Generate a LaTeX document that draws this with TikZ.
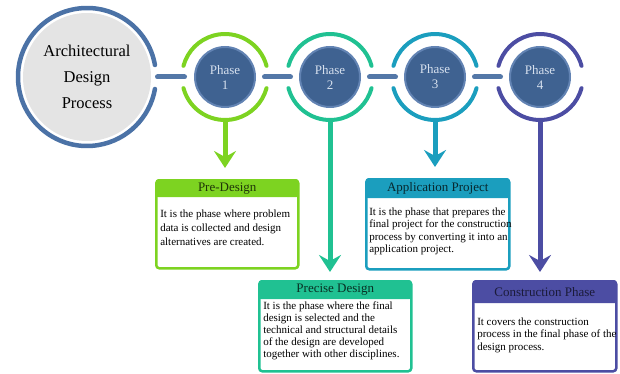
\documentclass[tikz,border=0pt]{standalone}
\usepackage{fontspec}
\setmainfont{Liberation Serif}
\usetikzlibrary{positioning, arrows.meta}
\definecolor{steelcustom}{RGB}{75,114,166}
\definecolor{barblue}{RGB}{84,120,168}
\definecolor{phaseblue}{RGB}{63,98,145}
\definecolor{rimblue}{RGB}{98,131,179}
\definecolor{phasetext}{RGB}{214,224,238}
\definecolor{graycustom}{RGB}{228,228,228}
\definecolor{limecustom}{RGB}{125,211,33}
\definecolor{mintcustom}{RGB}{32,193,146}
\definecolor{tealcustom}{RGB}{27,158,190}
\definecolor{indigocustom}{RGB}{76,77,163}

\begin{document}
\begin{tikzpicture}[x=1pt, y=1pt,
  ring/.style={line width=4pt, line cap=round},
  ph/.style={circle, fill=phaseblue, draw=rimblue, line width=2pt, minimum size=60pt, inner sep=0pt, align=center, text=phasetext, font=\fontsize{13}{15}\selectfont},
  hold/.style={circle, minimum size=86pt, inner sep=0pt},
  bar/.style={line width=5pt, barblue, line cap=round},
  stem/.style={line width=5pt, shorten >=11pt, -{Stealth[length=17pt, width=22pt, inset=6pt]}},
  card/.style={draw, line width=2.5pt, rounded corners=3pt, fill=white, inner sep=0pt, anchor=north west},
  head/.style={anchor=north, rounded corners=2pt, inner sep=0pt, font=\fontsize{13}{15}\selectfont},
  txt/.style={anchor=north west, align=left, inner sep=0pt, font=\fontsize{11}{12.5}\selectfont}]
 \useasboundingbox (0,0) rectangle (620,-374);

 \node[circle, fill=graycustom, minimum size=128pt, inner sep=0pt, align=center, font=\fontsize{16.5}{26}\selectfont] (adp) at (87,-77) {Architectural\\Design\\Process};
 \draw[ring, line width=4.5pt, steelcustom] ([shift={(10:69)}]adp.center) arc[start angle=10, end angle=350, radius=69];

 \node[ph] (p1) at (225,-77) {Phase\\1};
 \node[ph] (p2) at (330,-77) {Phase\\2};
 \node[ph] (p3) at (435,-77) {Phase\\3};
 \node[ph] (p4) at (540,-77) {Phase\\4};
 \node[hold] (r1) at (p1) {};
 \node[hold] (r2) at (p2) {};
 \node[hold] (r3) at (p3) {};
 \node[hold] (r4) at (p4) {};

 \draw[ring, limecustom] ([shift={(15:43)}]r1.center) arc[start angle=15, end angle=165, radius=43];
 \draw[ring, limecustom] ([shift={(195:43)}]r1.center) arc[start angle=195, end angle=345, radius=43];
 \draw[ring, mintcustom] ([shift={(15:43)}]r2.center) arc[start angle=15, end angle=165, radius=43];
 \draw[ring, mintcustom] ([shift={(195:43)}]r2.center) arc[start angle=195, end angle=345, radius=43];
 \draw[ring, tealcustom] ([shift={(15:43)}]r3.center) arc[start angle=15, end angle=165, radius=43];
 \draw[ring, tealcustom] ([shift={(195:43)}]r3.center) arc[start angle=195, end angle=345, radius=43];
 \draw[ring, indigocustom] ([shift={(15:43)}]r4.center) arc[start angle=15, end angle=165, radius=43];
 \draw[ring, indigocustom] ([shift={(195:43)}]r4.center) arc[start angle=195, end angle=345, radius=43];

 \draw[bar, shorten <=70.5pt, shorten >=40.5pt] (adp.center) -- (p1.center);
 \draw[bar, shorten <=39.5pt, shorten >=39.5pt] (p1.center) -- (p2.center);
 \draw[bar, shorten <=39.5pt, shorten >=39.5pt] (p2.center) -- (p3.center);
 \draw[bar, shorten <=39.5pt, shorten >=39.5pt] (p3.center) -- (p4.center);

 \node[card, draw=limecustom, minimum width=142pt, minimum height=88pt] (b1) at (155,-179) {};
 \node[head, fill=limecustom, minimum width=142pt, minimum height=18pt, text=limecustom!25!black] (h1) at (b1.north) {Pre-Design};
 \node[txt, font=\fontsize{11}{14}\selectfont] (t1) at ([shift={(4,-12)}]h1.south west) {It is the phase where problem\\data is collected and design\\alternatives are created.};

 \node[card, draw=mintcustom, minimum width=152pt, minimum height=90pt] (b2) at (258,-280) {};
 \node[head, fill=mintcustom, minimum width=152pt, minimum height=19pt, text=mintcustom!25!black] (h2) at (b2.north) {Precise Design};
 \node[txt, font=\fontsize{11}{12}\selectfont] (t2) at ([shift={(4,-2)}]h2.south west) {It is the phase where the final\\design is selected and the\\technical and structural details\\of the design are developed\\together with other disciplines.};

 \node[card, draw=tealcustom, minimum width=143pt, minimum height=90pt] (b3) at (365,-178) {};
 \node[head, fill=tealcustom, minimum width=143pt, minimum height=20pt, text=tealcustom!25!black] (h3) at (b3.north) {Application Project};
 \node[txt] (t3) at ([shift={(3,-9)}]h3.south west) {It is the phase that prepares the\\final project for the construction\\process by converting it into an\\application project.};

 \node[card, draw=indigocustom, minimum width=143pt, minimum height=90pt] (b4) at (472,-280) {};
 \node[head, fill=indigocustom, minimum width=143pt, minimum height=23pt, text=indigocustom!35!black] (h4) at (b4.north) {Construction Phase};
 \node[txt] (t4) at ([shift={(4,-14)}]h4.south west) {It covers the construction\\process in the final phase of the\\design process.};

 \draw[stem, limecustom] (r1.south) -- (r1.south |- b1.north);
 \draw[stem, mintcustom, shorten >=8pt] (r2.south) -- (r2.south |- b2.north);
 \draw[stem, tealcustom] (r3.south) -- (r3.south |- b3.north);
 \draw[stem, indigocustom, shorten >=8pt] (r4.south) -- (r4.south |- b4.north);
\end{tikzpicture}
\end{document}
